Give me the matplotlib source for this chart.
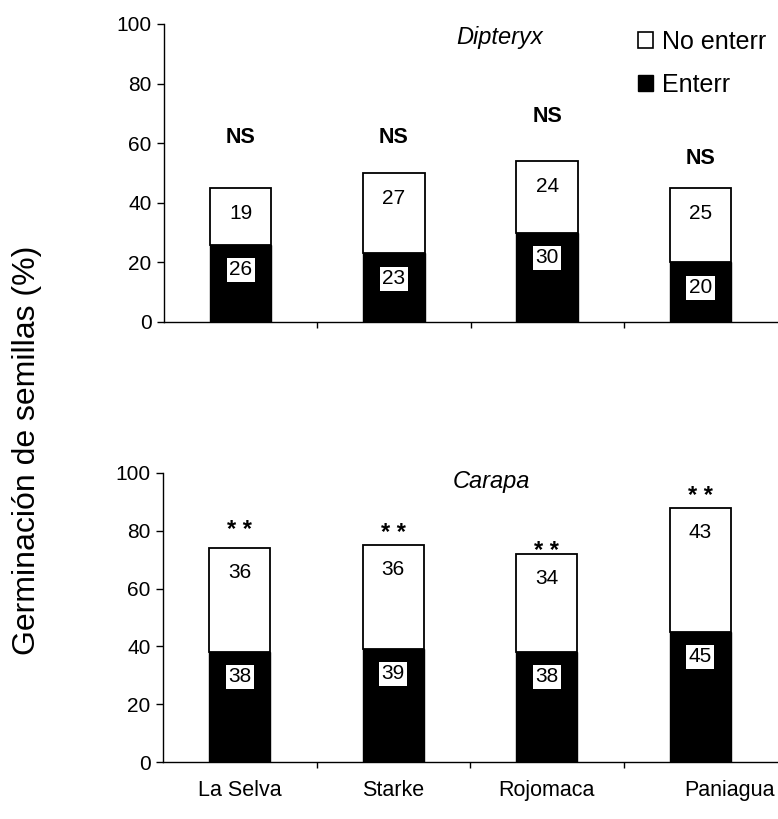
import numpy as np
import matplotlib
matplotlib.use("Agg")
import matplotlib.pyplot as plt
from matplotlib.patches import Patch
from matplotlib.transforms import ScaledTranslation

plt.rcParams['font.family'] = ['Liberation Sans', 'DejaVu Sans']

# ---- data ----
sites = ["La Selva", "Starke", "Rojomaca", "Paniagua"]
dip_enterr = [26, 23, 30, 20]
dip_no_enterr = [19, 27, 24, 25]
car_enterr = [38, 39, 38, 45]
car_no_enterr = [36, 36, 34, 43]
dip_sig = ["NS", "NS", "NS", "NS"]
car_sig = ["* *", "* *", "* *", "* *"]
yticks = [0, 20, 40, 60, 80, 100]

# annotation heights (layout)
dip_sig_y = [62, 62, 69, 55]
car_sig_y = [80, 79, 73, 92]

fig = plt.figure(figsize=(7.78, 8.19), dpi=100)
W, H = 778, 819
ax1 = fig.add_axes([164 / W, 1 - 322 / H, (777 - 164) / W, (322 - 24) / H])
ax2 = fig.add_axes([163 / W, 1 - 762 / H, (777 - 163) / W, (762 - 473) / H])

x = np.arange(len(sites))
width = 0.4


def panel(ax, enterr, no_enterr, sig, sig_y, sig_kw, title, title_xy):
    enterr = np.array(enterr)
    no_enterr = np.array(no_enterr)
    total = enterr + no_enterr
    ax.bar(x, enterr, width, color='black', edgecolor='black', linewidth=1.0,
           label='Enterr', zorder=2)
    ax.bar(x, no_enterr, width, bottom=enterr, color='white', edgecolor='black',
           linewidth=1.3, label='No enterr', zorder=2)
    for xi, e, n, t in zip(x, enterr, no_enterr, total):
        ax.text(xi, e - 8.5, f"{e}", ha='center', va='center', fontsize=15,
                color='black', zorder=3,
                bbox=dict(boxstyle='square,pad=0.12', fc='white', ec='none'))
        ax.text(xi, t - 8.5, f"{n}", ha='center', va='center', fontsize=15,
                color='black', zorder=3)
    for xi, s, sy in zip(x, sig, sig_y):
        ax.text(xi, sy, s, ha='center', va='center', zorder=3, **sig_kw)
    ax.text(title_xy[0], title_xy[1], title, transform=ax.transAxes,
            ha='center', va='center', fontsize=17, style='italic')

    ax.set_xlim(-0.5, len(sites) - 0.5)
    ax.set_ylim(0, 100)
    ax.set_yticks(yticks)
    ax.tick_params(axis='y', direction='out', length=5, width=1, labelsize=15,
                   pad=4)
    ax.set_xticks(x)
    ax.set_xticks(x[:-1] + 0.5, minor=True)
    ax.tick_params(axis='x', which='minor', direction='out', length=4, width=1)
    ax.tick_params(axis='x', which='major', length=0, labelsize=15.5, pad=13)
    for sp in ['top', 'right']:
        ax.spines[sp].set_visible(False)
    for sp in ['left', 'bottom']:
        ax.spines[sp].set_linewidth(1.0)


panel(ax1, dip_enterr, dip_no_enterr, dip_sig, dip_sig_y,
      dict(fontsize=15.5, fontweight='bold'), 'Dipteryx', (0.548, 0.955))
ax1.set_xticklabels([])

panel(ax2, car_enterr, car_no_enterr, car_sig, car_sig_y,
      dict(fontsize=17, fontweight='bold'), 'Carapa', (0.535, 0.97))
ax2.set_xticklabels(sites)
lbl = ax2.get_xticklabels()[3]
lbl.set_transform(lbl.get_transform() + ScaledTranslation(0.29, 0, fig.dpi_scale_trans))

handles = [Patch(facecolor='white', edgecolor='black', linewidth=1.2, label='No enterr'),
           Patch(facecolor='black', edgecolor='black', label='Enterr')]
ax1.legend(handles=handles, loc='upper left', bbox_to_anchor=(638 / W, 1 - 30 / H),
           bbox_transform=fig.transFigure, frameon=False, fontsize=18,
           handlelength=0.6, handleheight=0.6, handletextpad=0.35,
           labelspacing=0.75, borderpad=0, borderaxespad=0)

fig.text(27 / W, 1 - 450 / H, 'Germinación de semillas (%)', rotation=90,
         ha='center', va='center', fontsize=23)

fig.savefig('out.png', dpi=100)
